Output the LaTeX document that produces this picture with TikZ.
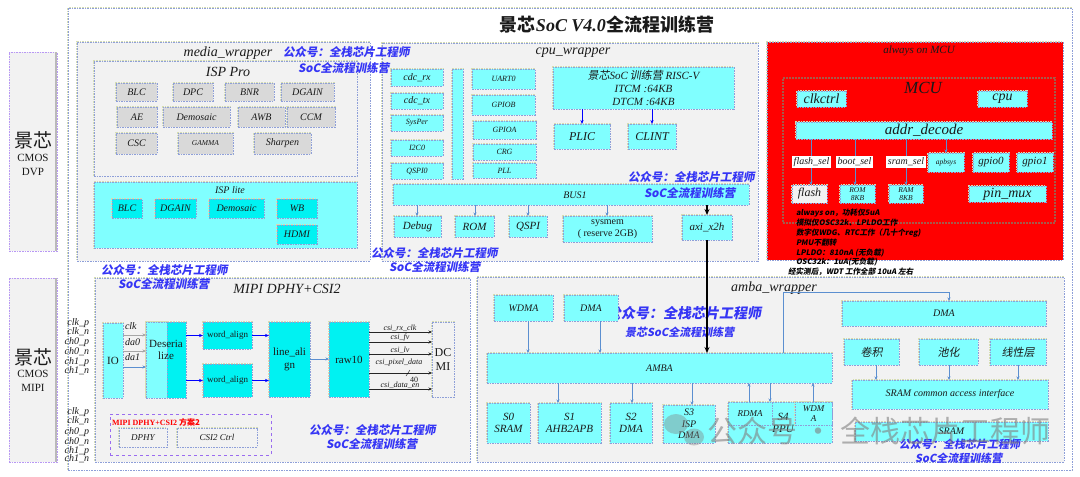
\documentclass[tikz,border=0pt]{standalone}
\usepackage{fontspec}
\setmainfont{Liberation Serif}
\newfontfamily\cjk{Noto Sans CJK SC}
\newfontfamily\cjks{Noto Sans CJK SC}[FakeSlant=0.18]
\usetikzlibrary{arrows.meta}
\definecolor{bd}{HTML}{8E9FD8}
\definecolor{glow}{HTML}{D6DDB2}
\definecolor{cyL}{HTML}{80FFFF}
\definecolor{cyD}{HTML}{00F2F2}
\definecolor{grL}{HTML}{D9D9D9}
\definecolor{wr}{HTML}{F2F2F2}
\definecolor{arrc}{HTML}{5B8FD0}
\definecolor{bluet}{HTML}{3535F5}
\definecolor{txt}{HTML}{1A1A1A}
\definecolor{mcub}{HTML}{A65A4A}
\definecolor{purp}{HTML}{9A6CF0}
\newcommand\fs[1]{\fontsize{#1}{1.15\dimexpr#1pt\relax}\selectfont}
\newcommand\bx[7]{\node[#1,minimum width=#5pt-#3pt,minimum height=#6pt-#4pt] (#2) at ({(#3+#5)/2},{(#4+#6)/2}) {#7};}
\newcommand\bt[5]{\node[anchor=west,text=bluet,font=\cjks\bfseries\fs{#4}] (#1) at (#2,#3) {#5};}
\begin{document}
\begin{tikzpicture}[x=1pt,y=-1pt,
  every node/.style={inner sep=1pt,outer sep=0pt,align=center,text=txt},
  frm/.style={draw=bd,dash pattern=on 1.6pt off 1pt,line width=0.45pt,preaction={draw=glow,line width=2.4pt}},
  cyb/.style={frm,fill=cyL,font=\itshape\fs{10}},
  cyx/.style={frm,fill=cyD,font=\fs{10}},
  grb/.style={frm,fill=grL,font=\itshape\fs{10}},
  wrb/.style={frm,fill=wr},
  sidebox/.style={draw=purp!70,dash pattern=on 1.6pt off 1pt,line width=0.6pt,fill=wr},
  arr/.style={draw=arrc,line width=0.5pt,-{Stealth[length=3.5pt,width=3pt]}},
  garr/.style={draw=gray!70,line width=0.5pt,-{Stealth[length=3.5pt,width=3pt]}},
  barr/.style={draw=black,line width=1.3pt,-{Stealth[length=6pt,width=5pt]}},
  blarr/.style={draw=blue,line width=0.6pt,-{Stealth[length=4pt,width=3.2pt]}},
  karr/.style={draw=black!85,line width=0.5pt,-{Stealth[length=3.5pt,width=3pt]}},
  sel/.style={fill=white,font=\itshape\fs{10},inner sep=0pt},
  note/.style={anchor=west,text=black,font=\cjks\bfseries\fs{7.6}},
  ti/.style={font=\itshape\fs{#1}},
  tu/.style={font=\fs{#1}},
]
\useasboundingbox (0,0) rectangle (1080,477);
% ---------- sensors ----------
\bx{sidebox}{dvp}{9}{52}{57}{251}{}
\draw[gray!55,line width=2pt] ([xshift=-1pt]dvp.north east) -- ([xshift=-1pt]dvp.south east);
\node[font=\cjk\fs{19}] (dvpa) at (33,140) {景芯};
\node[tu=11] (dvpb) at (33,158) {CMOS};
\node[tu=11] (dvpc) at (33,172) {DVP};
\bx{sidebox}{mipis}{9}{278}{57}{462}{}
\draw[gray!55,line width=2pt] ([xshift=-1pt]mipis.north east) -- ([xshift=-1pt]mipis.south east);
\node[font=\cjk\fs{19}] (mipia) at (33,357) {景芯};
\node[tu=11] (mipib) at (33,374) {CMOS};
\node[tu=11] (mipic) at (33,388) {MIPI};
% ---------- outer ----------
\bx{frm,fill=white}{outer}{68}{8}{1072}{470}{}
\node (title) at (607,25) {{\cjk\bfseries\fs{18}景芯}{\bfseries\itshape\fs{18}SoC V4.0}{\cjk\bfseries\fs{18}全流程训练营}};
% ---------- media_wrapper ----------
\bx{wrb}{media}{77}{42}{370}{261}{}
\node[ti=14] (medial) at (228,53) {media\_wrapper};
\bx{wrb}{isppro}{94}{61}{357}{176}{}
\node[ti=14] (ispprol) at (228,72) {ISP Pro};
\bx{grb}{p1}{116}{83}{157}{101}{BLC}
\bx{grb}{p2}{173}{83}{213}{101}{DPC}
\bx{grb}{p3}{225}{83}{274}{101}{BNR}
\bx{grb}{p4}{281}{83}{334}{101}{DGAIN}
\bx{grb}{p5}{117}{107}{157}{127}{AE}
\bx{grb}{p6}{163}{107}{230}{127}{Demosaic}
\bx{grb}{p7}{238}{107}{285}{127}{AWB}
\bx{grb}{p8}{287}{107}{335}{127}{CCM}
\bx{grb}{p9}{116}{133}{157}{154}{CSC}
\bx{grb,font=\itshape\fs{7.5}}{p10}{178}{133}{233}{154}{GAMMA}
\bx{grb}{p11}{254}{133}{311}{154}{Sharpen}
\bx{frm,fill=cyL}{isplite}{94}{182}{357}{248}{}
\node[ti=10] (isplitel) at (230,190) {ISP lite};
\bx{cyx,font=\itshape\fs{10}}{l1}{112}{199}{142}{218}{BLC}
\bx{cyx,font=\itshape\fs{10}}{l2}{155}{199}{196}{218}{DGAIN}
\bx{cyx,font=\itshape\fs{10}}{l3}{209}{199}{264}{218}{Demosaic}
\bx{cyx,font=\itshape\fs{10}}{l4}{277}{199}{317}{218}{WB}
\bx{cyx,font=\itshape\fs{10}}{l5}{277}{225}{317}{244}{HDMI}
% ---------- cpu_wrapper ----------
\bx{wrb}{cpu}{382}{43}{758}{261}{}
\node[ti=14] (cpul) at (573,53) {cpu\_wrapper};
\bx{cyb}{cdcrx}{391}{69}{443}{86}{cdc\_rx}
\bx{cyb}{cdctx}{391}{93}{443}{109}{cdc\_tx}
\bx{cyb,font=\itshape\fs{8}}{sysper}{391}{115}{443}{131}{SysPer}
\bx{cyb,font=\itshape\fs{8}}{i2c}{391}{140}{443}{156}{I2C0}
\bx{cyb,font=\itshape\fs{8}}{qspi0}{391}{163}{443}{179}{QSPI0}
\bx{cyb}{vbar}{452}{69}{463}{179}{}
\bx{cyb,font=\itshape\fs{8}}{uart}{472}{69}{535}{89}{UART0}
\bx{cyb,font=\itshape\fs{8}}{gpiob}{472}{95}{535}{115}{GPIOB}
\bx{cyb,font=\itshape\fs{8}}{gpioa}{473}{121}{536}{139}{GPIOA}
\bx{cyb,font=\itshape\fs{8}}{crg}{473}{144}{536}{160}{CRG}
\bx{cyb,font=\itshape\fs{8}}{pll}{473}{163}{536}{178}{PLL}
\bx{cyb,font=\itshape\fs{11}}{riscv}{553}{67}{734}{109}{{\cjks 景芯}SoC\,{\cjks 训练营} RISC-V\\[0.5pt]ITCM :64KB\\[0.5pt]DTCM :64KB}
\bx{cyb,font=\itshape\fs{12}}{plic}{554}{124}{610}{149}{PLIC}
\bx{cyb,font=\itshape\fs{12}}{clint}{628}{124}{676}{149}{CLINT}
\draw[blarr] (riscv.south -| 582,0) -- (plic.north -| 582,0);
\draw[blarr] (riscv.south -| 652,0) -- (clint.north -| 652,0);
\bx{cyb}{bus}{393}{184}{749}{205}{}
\node[ti=10] (busl) at (575,195) {BUS1};
\bx{cyb,font=\itshape\fs{11}}{debug}{394}{216}{441}{237}{Debug}
\bx{cyb,font=\itshape\fs{11}}{rom}{455}{216}{494}{237}{ROM}
\bx{cyb,font=\itshape\fs{11}}{qspi}{509}{216}{547}{237}{QSPI}
\bx{cyb,font=\fs{10}}{sysmem}{563}{216}{652}{242}{sysmem\\( reserve 2GB)}
\bx{cyb,font=\itshape\fs{11}}{axi}{682}{215}{732}{240}{axi\_x2h}
\draw[arr] (bus.south -| 417,0) -- (debug.north -| 417,0);
\draw[arr] (bus.south -| 475,0) -- (rom.north -| 475,0);
\draw[arr] (bus.south -| 528,0) -- (qspi.north -| 528,0);
\draw[arr] (bus.south -| 607,0) -- (sysmem.north -| 607,0);
\draw[barr] (bus.south -| axi.north) -- (axi.north);
% ---------- always on MCU ----------
\bx{frm,fill=red}{aon}{767}{42}{1063}{260}{}
\node[ti=11] (aonl) at (919,51) {always on MCU};
\bx{draw=mcub,line width=1.2pt,dash pattern=on 2pt off 1pt}{mcu}{783}{78}{1055}{223}{}
\node[ti=17] (mcul) at (923,88) {MCU};
\bx{cyb,font=\itshape\fs{14}}{clk}{797}{91}{846}{107}{clkctrl}
\bx{cyb,font=\itshape\fs{14}}{cpux}{978}{91}{1027}{107}{cpu}
\bx{cyb,font=\itshape\fs{15}}{addr}{796}{122}{1052}{139}{addr\_decode}
\bx{cyb,font=\itshape\fs{7.5}}{apb}{928}{153}{964}{172}{apbsys}
\bx{cyb,font=\itshape\fs{11}}{gp0}{973}{153}{1009}{172}{gpio0}
\bx{cyb,font=\itshape\fs{11}}{gp1}{1017}{153}{1053}{172}{gpio1}
\bx{frm,fill=wr,font=\itshape\fs{12}}{flash}{792}{185}{827}{203}{flash}
\bx{cyb,font=\itshape\fs{7.5},inner sep=0pt}{rom8}{840}{185}{875}{203}{ROM\\8KB}
\bx{cyb,font=\itshape\fs{7.5},inner sep=0pt}{ram8}{889}{185}{923}{203}{RAM\\8KB}
\bx{cyb,font=\itshape\fs{14}}{pinmux}{969}{186}{1046}{202}{pin\_mux}
\draw[arr] (addr.south -| 811,0) -- (flash.north -| 811,0);
\draw[arr] (addr.south -| 855,0) -- (rom8.north -| 855,0);
\draw[arr] (addr.south -| 906,0) -- (ram8.north -| 906,0);
\draw[arr] (addr.south -| 946,0) -- (apb.north -| 946,0);
\bx{sel}{fsel}{792}{156}{831}{168}{flash\_sel}
\bx{sel}{bsel}{836}{156}{873}{168}{boot\_sel}
\bx{sel}{ssel}{886}{156}{926}{168}{sram\_sel}
\node[note] (n1) at (795,213) {always on，功耗仅5uA};
\node[note] (n2) at (795,223) {模拟仅OSC32k、LPLDO工作};
\node[note] (n3) at (795,233) {数字仅WDG、RTC工作（几十个reg)};
\node[note] (n4) at (795,243) {PMU不翻转};
\node[note] (n5) at (795,253) {LPLDO：810nA (无负载)};
\node[note] (n6) at (795,262) {OSC32k：1uA(无负载)};
\node[note] (n7) at (787,272) {经实测后，WDT 工作全部 10uA 左右};
% ---------- MIPI ----------
\bx{wrb}{mipi}{95}{278}{470}{462}{}
\node[ti=14] (mipil) at (287,289) {MIPI DPHY+CSI2};
\foreach \t/\yy [count=\i] in {clk\_p/323,clk\_n/332,ch0\_p/342,ch0\_n/352,ch1\_p/362,ch1\_n/371}
  \node[anchor=east,ti=10] (ca\i) at (90,\yy) {\t};
\foreach \t/\yy [count=\i] in {clk\_p/412,clk\_n/421,ch0\_p/432,ch0\_n/442,ch1\_p/451,ch1\_n/459}
  \node[anchor=east,ti=10] (cb\i) at (90,\yy) {\t};
\bx{cyb,font=\fs{11}}{io}{103}{323}{123}{398}{IO}
\bx{cyx}{desb}{146}{322}{186}{398}{}
\bx{cyb}{desf}{146}{322}{167}{398}{}
\node[tu=11] (desl) at (166,350) {Deseria\\lize};
\bx{cyx,font=\fs{9}}{wa1}{203}{322}{252}{349}{word\_align}
\bx{cyx,font=\fs{9}}{wa2}{203}{364}{252}{397}{word\_align}
\bx{cyx,font=\fs{11}}{la}{269}{322}{310}{397}{line\_ali\\gn}
\bx{cyx,font=\fs{11}}{raw}{329}{322}{369}{397}{raw10}
\bx{wrb,font=\fs{12}}{dcmi}{432}{322}{454}{397}{DC\\MI}
\draw[garr] (io.east |- 0,335) -- (desf.west |- 0,335);
\draw[garr] (io.east |- 0,351) -- (desf.west |- 0,351);
\draw[arr] (io.east |- 0,367) -- (desf.west |- 0,367);
\node[anchor=west,ti=10] (lclk) at (124,326) {clk};
\node[anchor=west,ti=10] (lda0) at (124,342) {da0};
\node[anchor=west,ti=10] (lda1) at (124,357) {da1};
\draw[blarr] (desb.east |- wa1.west) -- (wa1.west);
\draw[blarr] (desb.east |- wa2.west) -- (wa2.west);
\draw[blarr] (wa1.east) -- (la.west |- wa1.east);
\draw[blarr] (wa2.east) -- (la.west |- wa2.east);
\draw[arr] (la.east |- 0,359) -- (raw.west |- 0,359);
\foreach \yy in {332,342,354,373,389}
  \draw[karr] (raw.east |- 0,\yy) -- (dcmi.west |- 0,\yy);
\node[ti=8] (s1) at (400,328) {csi\_rx\_clk};
\node[ti=8] (s2) at (400,338) {csi\_fv};
\node[ti=8] (s3) at (400,350) {csi\_lv};
\node[ti=8] (s4) at (399,363) {csi\_pixel\_data};
\node[tu=8] (s5) at (414,380) {40};
\draw[black] (406,376) -- (410,370);
\node[ti=8] (s6) at (400,385) {csi\_data\_en};
\bx{draw=purp,dashed,line width=0.7pt}{fa}{110}{414}{271}{455}{}
\node[anchor=west,text=red,font=\bfseries\fs{8}] (fal) at (111,422) {MIPI DPHY+CSI2 {\cjk\bfseries 方案2}};
\bx{wrb,font=\itshape\fs{9}}{dphy}{119}{428}{167}{447}{DPHY}
\bx{wrb,font=\itshape\fs{9}}{csi2}{177}{428}{257}{447}{CSI2 Ctrl}
% ---------- amba_wrapper ----------
\bx{wrb}{amba}{477}{277}{1064}{462}{}
\node[ti=14] (ambal) at (774,288) {amba\_wrapper};
\bt{w6a}{606}{313}{14}{公众号：全栈芯片工程师}
\bt{w6b}{624}{332}{11}{景芯SoC全流程训练营}
\bx{cyb}{wdma}{494}{295}{553}{321}{WDMA}
\bx{cyb}{dmal}{564}{295}{618}{321}{DMA}
\bx{cyb}{ambab}{487}{353}{832}{383}{AMBA}
\draw[arr] (wdma.south -| 528,0) -- (ambab.north -| 528,0);
\draw[arr] (dmal.south -| 600,0) -- (ambab.north -| 600,0);
\draw[barr] (axi.south) -- (ambab.north -| axi.south);
\bx{cyb,font=\itshape\fs{11}}{s0}{487}{403}{530}{443}{S0\\SRAM}
\bx{cyb,font=\itshape\fs{11}}{s1b}{538}{403}{601}{443}{S1\\AHB2APB}
\bx{cyb,font=\itshape\fs{11}}{s2b}{610}{403}{652}{443}{S2\\DMA}
\bx{cyb,font=\itshape\fs{10},inner sep=0pt}{s3b}{663}{405}{715}{443}{S3\\ISP\\DMA}
\bx{cyb}{s4b}{728}{402}{832}{443}{}
\bx{cyb,font=\itshape\fs{9}}{rdma}{728}{402}{772}{425}{RDMA}
\bx{cyb,font=\itshape\fs{9},inner sep=0pt}{wdmb}{795}{402}{832}{425}{WDM\\A}
\node[ti=11] (s4l) at (783,423) {S4\\PPU};
\draw[arr] (ambab.south -| 558,0) -- (s1b.north -| 558,0);
\draw[arr] (ambab.south -| 632,0) -- (s2b.north -| 632,0);
\draw[arr] (ambab.south -| 692,0) -- (s3b.north -| 692,0);
\draw[arr] (rdma.north -| 749,0) -- (ambab.south -| 749,0);
\draw[arr] (ambab.south -| 770,0) -- (s4b.north -| 770,0);
\draw[arr] (wdmb.north -| 813,0) -- (ambab.south -| 813,0);
\bx{cyb}{dmar}{842}{301}{1046}{326}{DMA}
\draw[arr] (ambab.north -| 783,0) |- (949,292) -- (dmar.north -| 949,0);
\bx{cyb,font=\cjks\fs{11}}{conv}{844}{339}{899}{365}{卷积}
\bx{cyb,font=\cjks\fs{11}}{pool}{919}{339}{978}{365}{池化}
\bx{cyb,font=\cjks\fs{11}}{lin}{990}{339}{1046}{365}{线性层}
\bx{cyb}{sca}{852}{380}{1048}{409}{SRAM common access interface}
\bx{cyb}{sram}{855}{422}{1048}{441}{SRAM}
\draw[arr] (conv.south -| 876,0) -- (sca.north -| 876,0);
\draw[arr] (pool.south -| 949,0) -- (sca.north -| 949,0);
\draw[arr] (lin.south -| 1018,0) -- (sca.north -| 1018,0);
% ---------- blue watermark texts ----------
\bt{w1a}{282}{52}{11.5}{公众号：全栈芯片工程师}
\bt{w1b}{297}{68}{11.5}{SoC全流程训练营}
\bt{w2a}{370}{253}{11.5}{公众号：全栈芯片工程师}
\bt{w2b}{388}{267}{11.5}{SoC全流程训练营}
\bt{w3a}{627}{177}{11.5}{公众号：全栈芯片工程师}
\bt{w3b}{643}{193}{11.5}{SoC全流程训练营}
\bt{w4a}{100}{270}{11.5}{公众号：全栈芯片工程师}
\bt{w4b}{117}{284}{11.5}{SoC全流程训练营}
\bt{w5a}{308}{430}{11.5}{公众号：全栈芯片工程师}
\bt{w5b}{325}{444}{11.5}{SoC全流程训练营}
\bt{w7a}{898}{444}{11}{公众号：全栈芯片工程师}
\bt{w7b}{914}{458}{11}{SoC全流程训练营}
% ---------- grey overlay mark ----------
\fill[gray,opacity=0.4] (676,424) ellipse (12pt and 10pt);
\fill[gray,opacity=0.4] (694,437) ellipse (10pt and 8.5pt);
\node[anchor=west,text=gray,opacity=0.6,font=\cjk\fs{30}] (wm) at (706,431) {公众号 · 全栈芯片工程师};
\end{tikzpicture}
\end{document}
